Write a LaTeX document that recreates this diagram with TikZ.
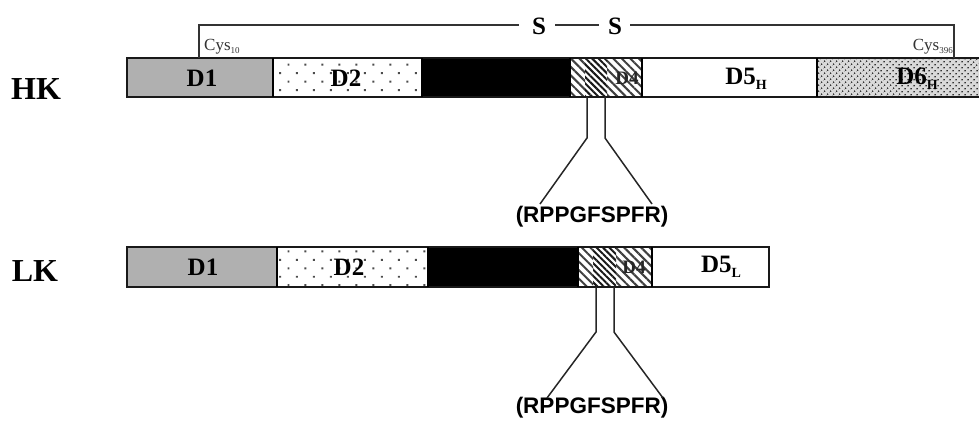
\documentclass[tikz,border=0pt]{standalone}
\usepackage{fontspec}
\setmainfont{Liberation Serif}
\setsansfont{Liberation Sans}
\usetikzlibrary{patterns.meta}
\definecolor{dgray}{HTML}{B0B0B0}
\definecolor{lgray}{HTML}{DADADA}
\begin{document}
\begin{tikzpicture}[x=1pt,y=-1pt,
  outline/.style={draw=black!90,line width=1.6pt},
  sep/.style={draw=black,line width=1.3pt},
  dom1/.style={fill=dgray},
  dom2/.style={pattern={Dots[radius=1.4pt,distance=12pt,angle=45]},pattern color=black!70},
  dom3/.style={fill=black},
  hatchA/.style={pattern={Lines[angle=-45,distance=6pt,line width=2pt]},pattern color=black!75},
  hatchB/.style={pattern={Lines[angle=-45,distance=4.5pt,line width=2pt]},pattern color=black!90},
  dom6/.style={fill=lgray,postaction={pattern={Dots[radius=1pt,distance=4pt,angle=45]},pattern color=black!80}},
  dlbl/.style={font=\bfseries\fontsize{25}{25}\selectfont,inner sep=0pt},
  d4lbl/.style={font=\bfseries\fontsize{19}{19}\selectfont,inner sep=0pt,text=black!85},
  rowlbl/.style={font=\bfseries\fontsize{32}{32}\selectfont,inner sep=0pt},
  cyslbl/.style={font=\fontsize{17}{17}\selectfont,inner sep=0pt,text=black!80},
  slbl/.style={font=\bfseries\fontsize{25}{25}\selectfont,inner sep=0pt},
  pep/.style={font=\sffamily\bfseries\fontsize{22.5}{22.5}\selectfont,inner sep=0pt},
  link/.style={draw=black!85,line width=1.5pt},
  bond/.style={draw=black!80,line width=1.3pt}]
\useasboundingbox (0,0) rectangle (979,421);

% ---------- heavy chain (HK) ----------
\path[dom1]   (127,58) rectangle (273,97);
\path[dom2]   (273,58) rectangle (422,97);
\path[dom3]   (422,58) rectangle (570,97);
\path[hatchA] (570,58) rectangle (585,97);
\path[hatchB] (585,58) rectangle (607,97);
\path[hatchA] (607,58) rectangle (642,97);
\path[dom6]   (817,58) rectangle (981,97);
\draw[outline] (127,58) rectangle (983,97);
\foreach \xx in {273,422,570,642,817} \draw[sep] (\xx,58) -- (\xx,97);

\node[rowlbl] (hk) at (36,89) {HK};
\node[dlbl] (hkd1) at (202,78) {D1};
\node[dlbl] (hkd2) at (346,78) {D2};
\node[d4lbl] (hkd4) at (627,78) {D4};
\node[dlbl] (hkd5) at (746,79) {D5\raisebox{-5pt}{\fontsize{14}{14}\selectfont H}};
\node[dlbl] (hkd6) at (917,79) {D6\raisebox{-5pt}{\fontsize{14}{14}\selectfont H}};

% disulfide bridge Cys10 -- Cys396
\node[cyslbl,anchor=west] (cysA) at (204,47) {Cys\raisebox{-3pt}{\fontsize{9}{9}\selectfont 10}};
\node[cyslbl,anchor=east] (cysB) at (953,47) {Cys\raisebox{-3pt}{\fontsize{9}{9}\selectfont 396}};
\node[slbl] (s1) at (539,26) {S};
\node[slbl] (s2) at (615,26) {S};
\coordinate (brA) at (199,58);
\coordinate (brB) at (954,58);
\draw[bond] (brA) -- (brA |- 0,25) -- ([xshift=-13pt]s1.west |- 0,25);
\draw[bond] ([xshift=9pt]s1.east |- 0,25) -- ([xshift=-9pt]s2.west |- 0,25);
\draw[bond] ([xshift=8pt]s2.east |- 0,25) -- (brB |- 0,25) -- (brB);

% bradykinin release, HK
\coordinate (hkA) at (587,97);
\coordinate (hkB) at (605,97);
\node[pep] (hkpep) at (592,217) {(RPPGFSPFR)};
\draw[link] (hkA) -- (587,138) -- (540,204);
\draw[link] (hkB) -- (605,138) -- (652,204);

% ---------- light chain (LK) ----------
\path[dom1]   (127,247) rectangle (277,287);
\path[dom2]   (277,247) rectangle (428,287);
\path[dom3]   (428,247) rectangle (578,287);
\path[hatchA] (578,247) rectangle (593,287);
\path[hatchB] (593,247) rectangle (616,287);
\path[hatchA] (616,247) rectangle (652,287);
\draw[outline] (127,247) rectangle (769,287);
\foreach \xx in {277,428,578,652} \draw[sep] (\xx,247) -- (\xx,287);

\node[rowlbl] (lk) at (35,271) {LK};
\node[dlbl] (lkd1) at (203,267) {D1};
\node[dlbl] (lkd2) at (349,267) {D2};
\node[d4lbl] (lkd4) at (634,267) {D4};
\node[dlbl] (lkd5) at (721,267) {D5\raisebox{-5pt}{\fontsize{14}{14}\selectfont L}};

% bradykinin release, LK
\coordinate (lkA) at (596,287);
\coordinate (lkB) at (614,287);
\node[pep] (lkpep) at (592,408) {(RPPGFSPFR)};
\draw[link] (lkA) -- (596,332) -- (547,398);
\draw[link] (lkB) -- (614,332) -- (663,398);
\end{tikzpicture}
\end{document}
